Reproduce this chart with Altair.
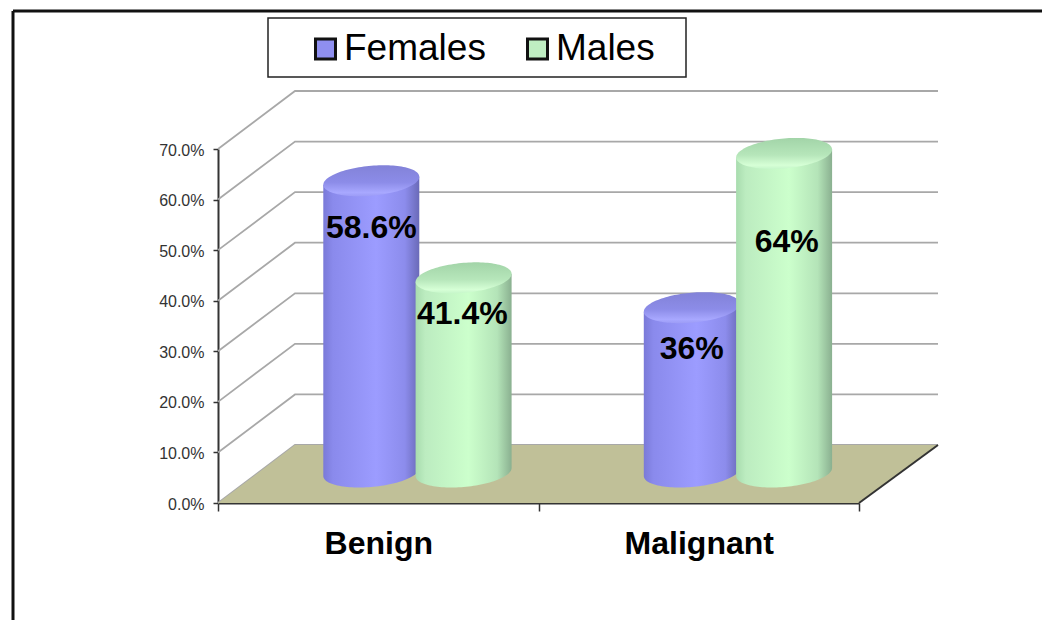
import altair as alt
import numpy as np
import pandas as pd

categories = ["Benign", "Malignant"]
series = ["Females", "Males"]
drawn_heights = {"Females": [0.576, 0.325], "Males": [0.384, 0.630]}
bar_labels = {"Females": ["58.6%", "36%"], "Males": ["41.4%", "64%"]}
tick_values = [0.0, 0.1, 0.2, 0.3, 0.4, 0.5, 0.6, 0.7]

# Geometry of the oblique projection, in data units
PX_X = 641 / 2
PX_Y = 354 / 0.7
DX, DY = 77 / PX_X, 58 / PX_Y
BACK_RIGHT = 2 + 79 / PX_X
DEPTH = 0.534
OFFSET = {"Females": -0.15, "Males": 0.138}
RX, RY, TILT = 48 / PX_X, 15 / PX_Y, 4 / PX_Y
LABEL_Y = {"Females": [0.483, 0.244], "Males": [0.313, 0.455]}
LABEL_DX = {"Females": [0.0, 0.0], "Males": [-0.004, 0.008]}

W, H = 641, 354
FONT = "Liberation Sans"

x_scale = alt.Scale(domain=[0, 2], nice=False, zero=False)
y_scale = alt.Scale(domain=[0, 0.7], nice=False, zero=False)

# Gridlines: side wall + back wall
rows = []
for v in tick_values:
    for i, (x, y) in enumerate([(0, v), (DX, v + DY), (BACK_RIGHT, v + DY)]):
        rows.append({"x": x, "y": y, "lvl": v, "i": i})
grid_df = pd.DataFrame(rows)
grid = alt.Chart(grid_df).mark_line(color="#a8a8a8", strokeWidth=1.8).encode(
    x=alt.X("x:Q", scale=x_scale, axis=alt.Axis(
        values=[0, 0.5, 1, 1.5, 2], title=None, grid=False, domainColor="#333333", domainWidth=2,
        tickColor="#333333", tickWidth=1.5, tickSize=8, labelFont=FONT, labelFontSize=32,
        labelFontWeight="bold", labelColor="#000000", labelPadding=17, labelFlush=False, labelOverlap=False,
        labelExpr="datum.value==0.5?'Benign':datum.value==1.5?'Malignant':''",
        tickOpacity=alt.condition("datum.value==0.5||datum.value==1.5", alt.value(0), alt.value(1)))),
    y=alt.Y("y:Q", scale=y_scale, axis=alt.Axis(
        values=tick_values, format=".1%", title=None, grid=False, domainColor="#333333", domainWidth=2,
        tickColor="#333333", tickWidth=1.5, tickSize=5, labelFont=FONT, labelFontSize=16,
        labelColor="#333333", labelPadding=9, labelOffset=1)),
    detail="lvl:N",
    order="i:Q",
)

# Floor
floor_df = pd.DataFrame({
    "x": [0, DX, 2, BACK_RIGHT],
    "y": [0, DY, DY, DY],
    "y2": [0, 0, 0, DY],
})
floor = alt.Chart(floor_df).mark_area(color="#c0c098").encode(
    x=alt.X("x:Q", scale=x_scale), y=alt.Y("y:Q", scale=y_scale), y2="y2:Q"
)
edge_df = pd.DataFrame({"x": [2, BACK_RIGHT], "y": [0, DY]})
edge = alt.Chart(edge_df).mark_line(color="#333333", strokeWidth=2).encode(
    x=alt.X("x:Q", scale=x_scale), y=alt.Y("y:Q", scale=y_scale)
)

# Cylinders
ts = np.cos(np.linspace(np.pi, 0, 61))
body_rows, cap_rows, text_rows, anchor_rows = [], [], [], []
for s in series:
    for c, cat in enumerate(categories):
        cx = c + 0.5 + OFFSET[s] + DX * DEPTH
        base = DY * DEPTH
        top = base + drawn_heights[s][c]
        for t in ts:
            arc = RY * np.sqrt(max(0.0, 1 - t * t))
            body_rows.append({"s": s, "cat": cat, "x": cx + RX * t,
                              "y": top + TILT * t, "y2": base + TILT * t - arc})
            cap_rows.append({"s": s, "cat": cat, "x": cx + RX * t,
                             "y": top + TILT * t + arc, "y2": top + TILT * t - arc})
        text_rows.append({"s": s, "x": cx + LABEL_DX[s][c], "y": base + LABEL_Y[s][c],
                          "label": bar_labels[s][c]})
        anchor_rows.append({"s": s, "x": cx, "y": base + 0.02})
body_df, cap_df = pd.DataFrame(body_rows), pd.DataFrame(cap_rows)


def grad_h(stops):
    return alt.LinearGradient(gradient="linear", x1=0, x2=1, y1=0, y2=0,
                              stops=[alt.GradientStop(offset=o, color=k) for o, k in stops])


def grad_v(stops):
    return alt.LinearGradient(gradient="linear", x1=0, x2=0, y1=0, y2=1,
                              stops=[alt.GradientStop(offset=o, color=k) for o, k in stops])


BODY = {
    "Females": [(0, "#7a7ad8"), (0.1, "#8a8aec"), (0.55, "#9c9cff"), (0.85, "#8c8cec"), (1, "#6a6ab8")],
    "Males": [(0, "#a8dcae"), (0.1, "#bcecc0"), (0.55, "#ccffcc"), (0.85, "#b4e4b8"), (1, "#8ab090")],
}
CAP = {
    "Females": [(0, "#8282d8"), (0.55, "#8c8ce8"), (0.88, "#a8a8ff"), (1, "#9c9cf6")],
    "Males": [(0, "#a2d4a8"), (0.55, "#b6e6ba"), (0.88, "#d6ffd6"), (1, "#c6f6ca")],
}

anchors = alt.Chart(pd.DataFrame(anchor_rows)).mark_square(size=20, opacity=1).encode(
    x=alt.X("x:Q", scale=x_scale),
    y=alt.Y("y:Q", scale=y_scale),
    color=alt.Color("s:N", scale=alt.Scale(domain=series, range=["#8f8ff0", "#bfeec2"]), legend=alt.Legend(
        orient="none", legendX=89, legendY=-123, direction="horizontal", columns=2, title=None,
        padding=0, symbolType="square", symbolSize=400, symbolStrokeColor="#111111",
        symbolStrokeWidth=3, symbolOpacity=1, labelFont=FONT, labelFontSize=37, labelColor="#000000",
        labelOffset=0, columnPadding=33, rowPadding=0, labelLimit=300, clipHeight=46)),
)

cyl_layers = []
for s in series:
    cyl_layers.append(
        alt.Chart(body_df[body_df.s == s]).mark_area(color=grad_h(BODY[s])).encode(
            x=alt.X("x:Q", scale=x_scale), y=alt.Y("y:Q", scale=y_scale), y2="y2:Q", detail="cat:N"
        )
    )
    cyl_layers.append(
        alt.Chart(cap_df[cap_df.s == s]).mark_area(color=grad_v(CAP[s])).encode(
            x=alt.X("x:Q", scale=x_scale), y=alt.Y("y:Q", scale=y_scale), y2="y2:Q", detail="cat:N"
        )
    )

labels = alt.Chart(pd.DataFrame(text_rows)).mark_text(
    font=FONT, fontSize=32, fontWeight="bold", color="#000000"
).encode(x=alt.X("x:Q", scale=x_scale), y=alt.Y("y:Q", scale=y_scale), text="label:N")

# Outer frame and legend box
one = pd.DataFrame({"a": [0]})
frame_top = alt.Chart(one).mark_rule(color="#111111", strokeWidth=3).encode(
    x=alt.value(-205), x2=alt.value(830), y=alt.value(-138)
)
frame_left = alt.Chart(one).mark_rule(color="#111111", strokeWidth=3).encode(
    x=alt.value(-205), y=alt.value(-138), y2=alt.value(480)
)
legend_box = alt.Chart(one).mark_rect(
    fill="#ffffff", stroke="#222222", strokeWidth=1.5
).encode(x=alt.value(50), x2=alt.value(468), y=alt.value(-131), y2=alt.value(-72))

chart = alt.layer(
    frame_top, frame_left, legend_box, grid, floor, edge, anchors, *cyl_layers, labels
).properties(
    width=W, height=H,
    padding={"left": 210, "top": 141, "right": 183, "bottom": 117},
    autosize="none",
    background="#ffffff",
).configure_view(stroke=None)

chart.save("out.html", embed_options={"renderer": "svg", "actions": False})
